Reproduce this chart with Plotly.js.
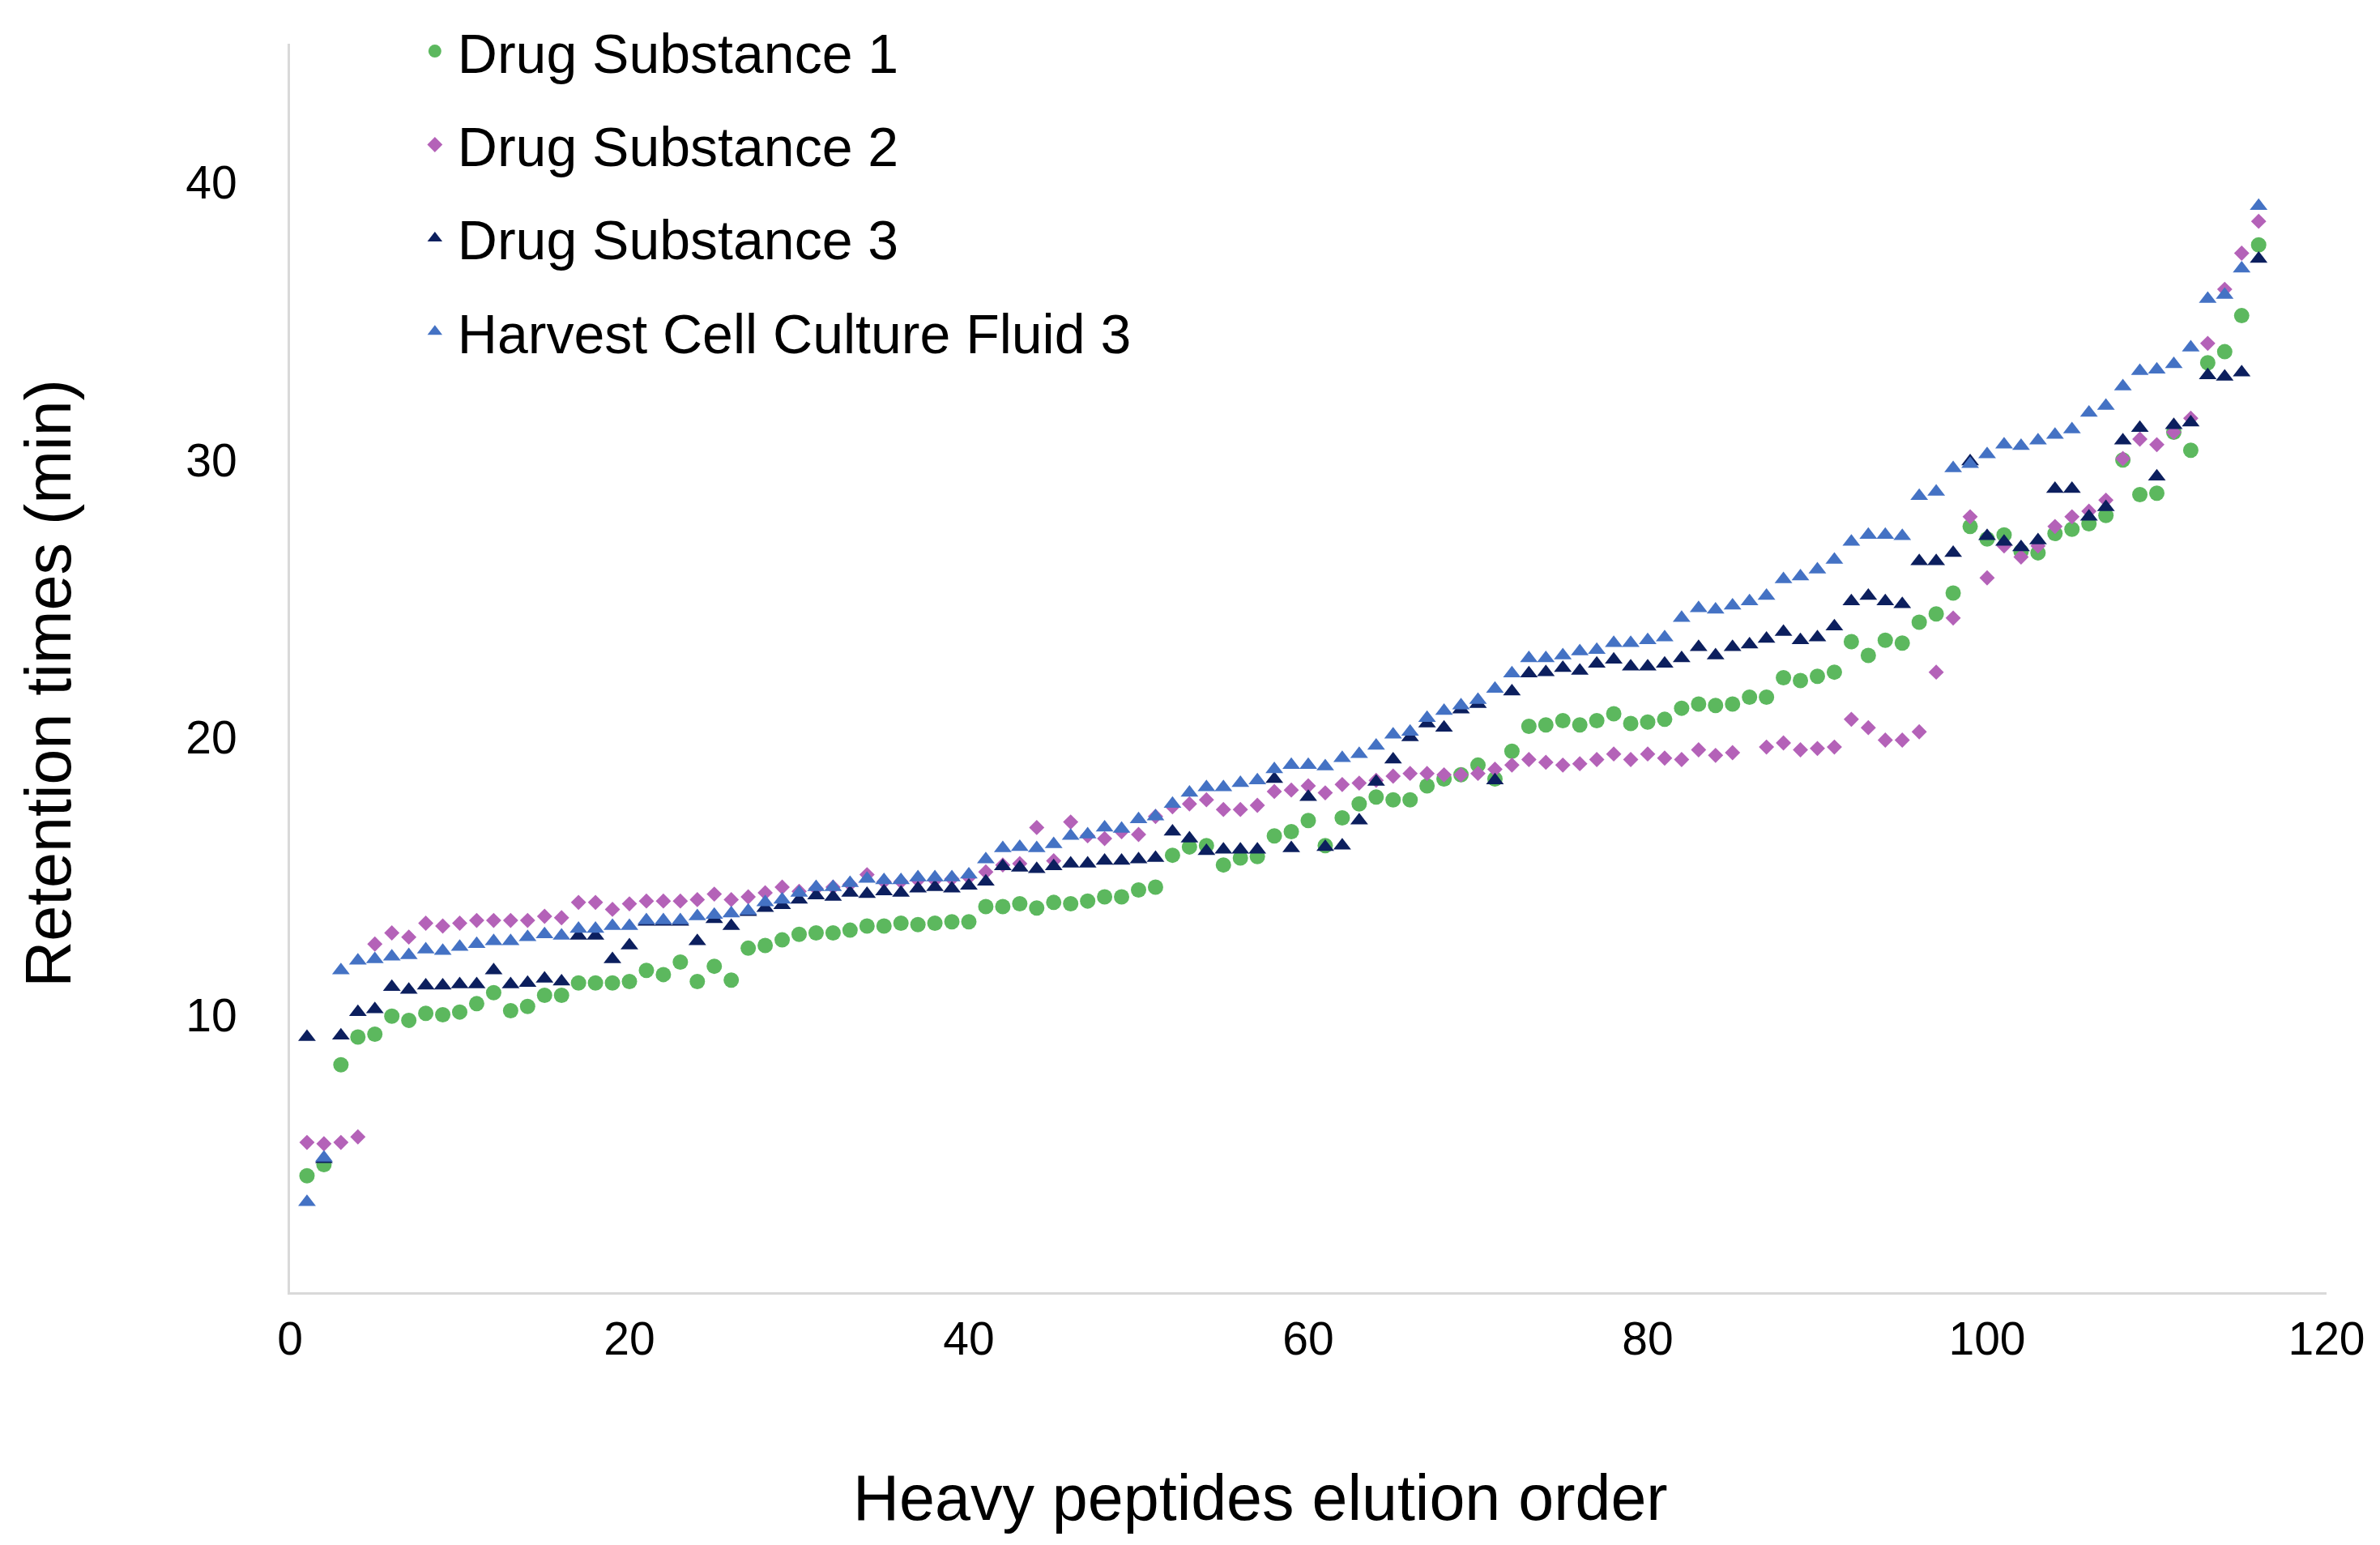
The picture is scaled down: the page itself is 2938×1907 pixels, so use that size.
<!DOCTYPE html>
<html>
<head>
<meta charset="utf-8">
<script src="https://cdn.plot.ly/plotly-3.0.1.min.js"></script>
<style>
  html, body { margin: 0; padding: 0; background: #ffffff; }
  #chart { width: 2938px; height: 1907px; }
</style>
</head>
<body>
<div id="chart"></div>
<script>
// Retention times (min), one value per heavy peptide, in elution order 1..116
const drugSubstance1 = [
  4.2, 4.6, 8.2, 9.2, 9.3, 9.95, 9.8, 10.05, 10.0, 10.1,
  10.4, 10.8, 10.15, 10.3, 10.7, 10.7, 11.15, 11.15, 11.15, 11.2,
  11.6, 11.45, 11.9, 11.2, 11.75, 11.25, 12.4, 12.5, 12.7, 12.9,
  12.95, 12.95, 13.05, 13.2, 13.2, 13.3, 13.25, 13.3, 13.35, 13.35,
  13.9, 13.9, 14.0, 13.85, 14.05, 14.0, 14.1, 14.25, 14.25, 14.5,
  14.6, 15.75, 16.05, 16.1, 15.4, 15.65, 15.7, 16.45, 16.6, 17.0,
  16.1, 17.1, 17.6, 17.85, 17.75, 17.75, 18.25, 18.5, 18.65, 19.0,
  18.5, 19.5, 20.4, 20.45, 20.6, 20.45, 20.6, 20.85, 20.5, 20.55,
  20.65, 21.05, 21.2, 21.15, 21.2, 21.45, 21.45, 22.15, 22.05, 22.2,
  22.35, 23.45, 22.95, 23.5, 23.4, 24.15, 24.45, 25.2, 27.6, 27.15,
  27.3, 26.7, 26.65, 27.35, 27.5, 27.7, 28.0, 30.0, 28.75, 28.8,
  31.0, 30.35, 33.5, 33.9, 35.2, 37.75
];

const drugSubstance2 = [
  5.4, 5.35, 5.4, 5.6, 12.55, 12.95, 12.8, 13.3, 13.2, 13.3,
  13.4, 13.4, 13.4, 13.4, 13.55, 13.5, 14.05, 14.05, 13.8, 14.0,
  14.1, 14.1, 14.1, 14.15, 14.35, 14.15, 14.25, 14.4, 14.6, 14.45,
  14.55, 14.6, 14.7, 15.05, 14.8, 14.8, 14.85, 14.85, 14.9, 14.95,
  15.15, 15.4, 15.45, 16.75, 15.55, 16.95, 16.45, 16.35, 16.6, 16.5,
  17.15, 17.5, 17.6, 17.75, 17.4, 17.4, 17.55, 18.05, 18.1, 18.25,
  18.0, 18.3, 18.35, 18.45, 18.6, 18.7, 18.7, 18.65, 18.65, 18.7,
  18.85, 19.0, 19.2, 19.1, 19.0, 19.05, 19.2, 19.4, 19.2, 19.4,
  19.25, 19.2, 19.55, 19.35, 19.45, null, 19.65, 19.8, 19.55, 19.6,
  19.65, 20.65, 20.35, 19.9, 19.9, 20.2, 22.35, 24.3, 27.95, 25.75,
  26.9, 26.5, 26.9, 27.6, 27.95, 28.15, 28.55, 30.05, 30.75, 30.55,
  31.0, 31.5, 34.2, 36.15, 37.45, 38.6
];

const drugSubstance3 = [
  9.2, 4.8, 9.25, 10.1, 10.2, 11.0, 10.9, 11.05, 11.05, 11.1,
  11.1, 11.6, 11.1, 11.15, 11.3, 11.2, 12.85, 12.85, 12.0, 12.5,
  13.35, 13.35, 13.35, 12.65, 13.45, 13.2, 13.7, 13.85, 13.95, 14.15,
  14.3, 14.25, 14.4, 14.35, 14.45, 14.4, 14.55, 14.6, 14.55, 14.65,
  14.8, 15.35, 15.3, 15.25, 15.35, 15.45, 15.45, 15.55, 15.55, 15.6,
  15.65, 16.6, 16.35, 15.9, 15.95, 15.95, 15.95, 18.5, 16.0, 17.85,
  16.05, 16.1, 17.0, 18.4, 19.2, 20.0, 20.5, 20.35, 21.0, 21.2,
  18.45, 21.65, 22.3, 22.35, 22.5, 22.4, 22.65, 22.8, 22.55, 22.55,
  22.65, 22.85, 23.25, 22.95, 23.25, 23.35, 23.55, 23.8, 23.5, 23.6,
  24.0, 24.9, 25.1, 24.9, 24.8, 26.35, 26.35, 26.65, 29.95, 27.25,
  27.05, 26.85, 27.1, 28.95, 28.95, 27.95, 28.3, 30.7, 31.15, 29.4,
  31.25, 31.35, 33.05, 33.0, 33.15, 37.25
];

const harvestFluid3 = [
  3.25, 4.85, 11.6, 11.95, 12.0, 12.1, 12.15, 12.35, 12.3, 12.45,
  12.55, 12.65, 12.65, 12.8, 12.9, 12.85, 13.1, 13.1, 13.2, 13.2,
  13.4, 13.4, 13.4, 13.55, 13.6, 13.65, 13.75, 14.05, 14.15, 14.4,
  14.6, 14.6, 14.75, 14.9, 14.85, 14.85, 14.95, 14.95, 14.95, 15.05,
  15.6, 16.0, 16.05, 16.0, 16.15, 16.45, 16.5, 16.75, 16.7, 17.05,
  17.15, 17.6, 18.0, 18.2, 18.2, 18.35, 18.45, 18.85, 19.0, 19.0,
  18.95, 19.25, 19.4, 19.7, 20.1, 20.2, 20.7, 20.95, 21.15, 21.35,
  21.75, 22.3, 22.85, 22.85, 22.95, 23.1, 23.15, 23.4, 23.4, 23.5,
  23.6, 24.3, 24.65, 24.6, 24.75, 24.9, 25.1, 25.7, 25.8, 26.05,
  26.4, 27.05, 27.3, 27.3, 27.25, 28.7, 28.85, 29.7, 29.85, 30.2,
  30.55, 30.5, 30.7, 30.9, 31.1, 31.7, 31.95, 32.65, 33.2, 33.25,
  33.45, 34.05, 35.8, 35.95, 36.9, 39.15
];

const seriesNames = [
  "Drug Substance 1",
  "Drug Substance 2",
  "Drug Substance 3",
  "Harvest Cell Culture Fluid 3"
];

const xTickValues = [0, 20, 40, 60, 80, 100, 120];
const yTickValues = [10, 20, 30, 40];

// elution order is just the position in the list
const elutionOrder = drugSubstance1.map((_, idx) => idx + 1);

const FONT = "Liberation Sans, Arial, sans-serif";
const AXIS_GREY = "#D9D9D9";
const TICK_SIZE = 57;

function markerTrace(values, name, symbol, color, size) {
    return {
        type: "scatter",
        mode: "markers",
        name: name,
        legendgroup: name,
        x: elutionOrder,
        y: values,
        marker: { symbol: symbol, color: color, size: size, line: { width: 0 } },
        hoverinfo: "skip"
    };
}

// drawing order matters: the later series sit on top of the earlier ones
const traces = [
    markerTrace(drugSubstance1, seriesNames[0], "circle", "#5CB85E", 19),
    markerTrace(drugSubstance2, seriesNames[1], "diamond", "#B462B8", 14.5),
    markerTrace(drugSubstance3, seriesNames[2], "triangle-up", "#0C1F5E", 19),
    markerTrace(harvestFluid3, seriesNames[3], "triangle-up", "#4472C4", 19)
];

const layout = {
    width: 2938,
    height: 1907,
    margin: { l: 358, r: 66, t: 38, b: 312 },
    paper_bgcolor: "#ffffff",
    plot_bgcolor: "#ffffff",
    font: { family: FONT, color: "#000000", size: TICK_SIZE },
    showlegend: true,
    legend: {
        x: 0.06,
        y: 1.027,
        xanchor: "left",
        yanchor: "top",
        bgcolor: "rgba(0,0,0,0)",
        font: { family: FONT, size: 68, color: "#000000" },
        tracegroupgap: 24,
        itemwidth: 46,
        itemsizing: "trace"
    },
    xaxis: {
        range: [0, 120],
        tickmode: "array",
        tickvals: xTickValues,
        ticks: "",
        ticklabelstandoff: 6,
        showgrid: false,
        zeroline: false,
        showline: true,
        linecolor: AXIS_GREY,
        linewidth: 3,
        tickfont: { family: FONT, size: TICK_SIZE }
    },
    yaxis: {
        range: [0, 45],
        tickmode: "array",
        tickvals: yTickValues,
        ticks: "",
        ticklabelstandoff: 51,
        showgrid: false,
        zeroline: false,
        showline: true,
        linecolor: AXIS_GREY,
        linewidth: 3,
        tickfont: { family: FONT, size: TICK_SIZE }
    },
    // axis titles as annotations so they can sit exactly where the original has them
    annotations: [
        {
            text: "Heavy peptides elution order",
            xref: "paper", yref: "paper",
            x: 0.4767, y: -0.1644,
            xanchor: "center", yanchor: "middle",
            showarrow: false,
            font: { family: FONT, size: 79, color: "#000000" }
        },
        {
            text: "Retention times (min)",
            xref: "paper", yref: "paper",
            x: -0.1185, y: 0.4875,
            xanchor: "center", yanchor: "middle",
            textangle: -90,
            showarrow: false,
            font: { family: FONT, size: 79, color: "#000000" }
        }
    ]
};

Plotly.newPlot("chart", traces, layout, { displayModeBar: false, staticPlot: true });
</script>
</body>
</html>
